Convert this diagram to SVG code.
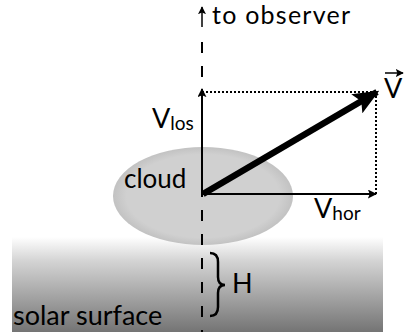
<svg xmlns="http://www.w3.org/2000/svg" width="413" height="332" viewBox="0 0 413 332">
<defs>
<linearGradient id="surf" x1="0" y1="0" x2="0" y2="1">
<stop offset="0" stop-color="#ffffff"/>
<stop offset="0.25" stop-color="#d4d4d4"/>
<stop offset="1" stop-color="#747474"/>
</linearGradient>
<radialGradient id="cl" cx="0.5" cy="0.5" r="0.5">
<stop offset="0.85" stop-color="#d0d0d0"/>
<stop offset="1" stop-color="#c2c2c2"/>
</radialGradient>
<marker id="ah" viewBox="0 0 10 10" refX="9" refY="5" markerWidth="9" markerHeight="9" markerUnits="userSpaceOnUse" orient="auto">
<path d="M0,0 L10,5 L0,10 L2,5 Z" fill="#000"/>
</marker>
<marker id="ahs" viewBox="0 0 10 10" refX="9" refY="5" markerWidth="8" markerHeight="8" markerUnits="userSpaceOnUse" orient="auto">
<path d="M0,0 L10,5 L0,10 L2,5 Z" fill="#000"/>
</marker>
<marker id="big" viewBox="0 0 10 10" refX="9" refY="5" markerWidth="26" markerHeight="22" markerUnits="userSpaceOnUse" orient="auto" preserveAspectRatio="none">
<path d="M0,0 L10,5 L0,10 L2,5 Z" fill="#000"/>
</marker>
</defs>
<style>
text { font-family: Lato, "Open Sans", "DejaVu Sans", sans-serif; fill: #000; }
.lbl { font-size: 27px; }
.sub { font-size: 19px; }
</style>
<g id="surface">
<rect x="12" y="237" width="371" height="95" fill="url(#surf)"/>
<text x="13" y="325" style="font-size:27px">solar surface</text>
</g>
<g id="cloud">
<ellipse cx="203" cy="196" rx="90" ry="49" fill="url(#cl)"/>
<text x="124" y="188" style="font-size:26px">cloud</text>
</g>
<g id="connectors" fill="none" stroke="#000">
<line x1="202" y1="42" x2="202" y2="332" stroke-width="2" stroke-dasharray="11 13"/>
<line x1="202" y1="27" x2="202" y2="7" stroke-width="1.5" marker-end="url(#ahs)"/>
<line x1="202" y1="92" x2="376" y2="92" stroke-width="2" stroke-dasharray="2 2"/>
<line x1="376" y1="92" x2="376" y2="194" stroke-width="2" stroke-dasharray="2 2"/>
<line x1="202" y1="195" x2="202" y2="89" stroke-width="2" marker-end="url(#ah)"/>
<line x1="202" y1="194" x2="376" y2="194" stroke-width="2" marker-end="url(#ah)"/>
<line x1="203" y1="194" x2="377" y2="92" stroke-width="6.5" marker-end="url(#big)"/>
<line x1="385" y1="73" x2="403" y2="73" stroke-width="1.5" marker-end="url(#ahs)"/>
<path d="M210,253 Q218,253 218,262 L218,277 Q218,285 225,285 Q218,285 218,293 L218,307 Q218,316 210,316" stroke-width="2.5"/>
</g>
<g id="labels">
<text x="212" y="24" style="font-size:25px" textLength="138" lengthAdjust="spacing">to observer</text>
<text x="152" y="128" class="lbl">V<tspan class="sub" dy="2">los</tspan></text>
<text x="314" y="218" class="lbl">V<tspan class="sub" dy="2">hor</tspan></text>
<text x="384" y="98" class="lbl">V</text>
<text x="232" y="293" style="font-size:27px">H</text>
</g>
</svg>
